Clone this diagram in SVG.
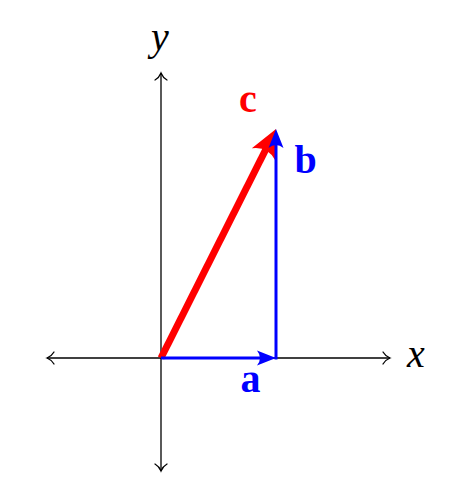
<svg xmlns="http://www.w3.org/2000/svg" width="474" height="495" viewBox="0 0 474 495">
<style>
.axis{stroke:#000;stroke-width:1.3;fill:none}
.lbl{font-family:"Liberation Serif",serif;font-size:40px;text-anchor:middle}
.bold{font-weight:bold}
.it{font-style:italic}
</style>
<defs>
<marker id="to" markerUnits="userSpaceOnUse" refX="0" refY="0" markerWidth="10" markerHeight="14" orient="auto" overflow="visible">
<path d="M-7,-6 C-5,-2.5 -1.5,-0.6 0,0 C-1.5,0.6 -5,2.5 -7,6" stroke="#000" stroke-width="1.3" fill="none" stroke-linecap="round"/>
</marker>
<marker id="bh" markerUnits="userSpaceOnUse" refX="-10" refY="0" markerWidth="21" markerHeight="16" orient="auto" overflow="visible">
<path d="M0,0 L-19,-7.5 Q-13,0 -19,7.5 Z" fill="#0000ff"/>
</marker>
<marker id="rh" markerUnits="userSpaceOnUse" refX="-21.2" refY="0" markerWidth="31" markerHeight="28" orient="auto" overflow="visible">
<path d="M0,0 L-28,-13 Q-19,0 -28,13 Z" fill="#ff0000"/>
</marker>
</defs>
<g id="connectors">
<line id="x-axis" class="axis" x1="161" y1="358" x2="47" y2="358" marker-end="url(#to)"/>
<line id="x-axis-pos" class="axis" x1="161" y1="358" x2="390" y2="358" marker-end="url(#to)"/>
<line id="y-axis" class="axis" x1="161" y1="358" x2="161" y2="73" marker-end="url(#to)"/>
<line id="y-axis-neg" class="axis" x1="161" y1="358" x2="161" y2="471" marker-end="url(#to)"/>
<path id="vec-c" d="M161,358 L266.5,148" stroke="#ff0000" stroke-width="7" fill="none" marker-end="url(#rh)"/>
<path id="vec-a" d="M161,358 L266,358" stroke="#0000ff" stroke-width="3" fill="none" marker-end="url(#bh)"/>
<path id="vec-b" d="M276,359.5 L276,139" stroke="#0000ff" stroke-width="3" fill="none" marker-end="url(#bh)"/>
</g>
<g id="labels">
<text id="lbl-x" class="lbl it" x="416" y="367">x</text>
<text id="lbl-y" class="lbl it" x="160" y="50">y</text>
<text id="lbl-a" class="lbl bold" fill="#0000ff" x="250.5" y="392">a</text>
<text id="lbl-b" class="lbl bold" fill="#0000ff" x="305.5" y="173">b</text>
<text id="lbl-c" class="lbl bold" fill="#ff0000" x="248" y="112">c</text>
</g>
</svg>
